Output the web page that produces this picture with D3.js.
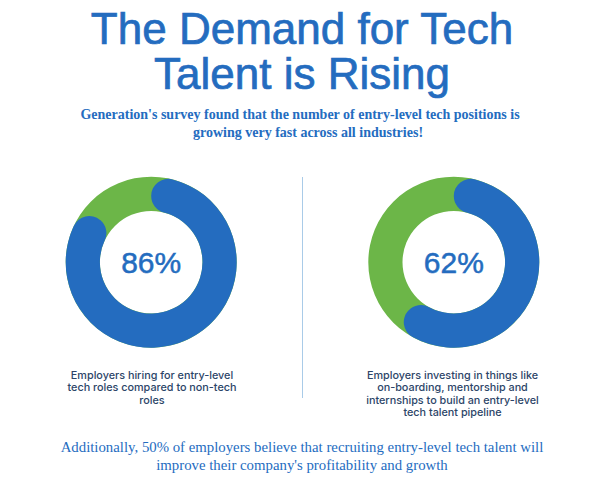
<!DOCTYPE html>
<html>
<head>
<meta charset="utf-8">
<script src="https://cdn.jsdelivr.net/npm/d3@7"></script>
<style>
  html, body { margin: 0; padding: 0; background: #fff; }
  svg { display: block; }
</style>
</head>
<body>
<svg width="604" height="485"></svg>
<script>
// Values
var percents = [86, 62];
var percentLabels = ["86%", "62%"];
var titleLines = ["The Demand for Tech", "Talent is Rising"];
var subtitleLines = [
  "Generation's survey found that the number of entry-level tech positions is",
  "growing very fast across all industries!"
];
var captions = [
  ["Employers hiring for entry-level", "tech roles compared to non-tech", "roles"],
  ["Employers investing in things like", "on-boarding, mentorship and", "internships to build an entry-level", "tech talent pipeline"]
];
var footerLines = [
  "Additionally, 50% of employers believe that recruiting entry-level tech talent will",
  "improve their company's profitability and growth"
];

var BLUE = "#246cbf";
var GREEN = "#6cb648";
var NAVY = "#2c4568";
var SANS = "'Liberation Sans', sans-serif";
var CAPTION = "Inter, 'Liberation Sans', sans-serif";
var SERIF = "'Liberation Serif', serif";

var svg = d3.select("svg");

function textBlock(lines, x, y, step, size, font, weight, fill) {
  return svg.append("g").selectAll("text")
    .data(lines)
    .enter().append("text")
    .attr("x", (d, i) => Array.isArray(x) ? x[i] : x)
    .attr("y", (d, i) => y + i * step)
    .attr("text-anchor", "middle")
    .attr("font-family", font)
    .attr("font-size", size)
    .attr("font-weight", weight)
    .attr("fill", fill)
    .text(d => d);
}

// Title is a bit heavier than the regular face, so give it a thin outline
textBlock(titleLines, 302, 43.5, 45, 44, SANS, 400, BLUE)
  .attr("stroke", BLUE)
  .attr("stroke-width", 0.7);
textBlock(subtitleLines, [300, 308], 119, 18, 14, SERIF, 700, BLUE);

// Donuts
var centers = [151.2, 453.8];
var angle = d3.scaleLinear().domain([0, 100]).range([0, 2 * Math.PI]);
var arc = d3.arc().innerRadius(51.3).outerRadius(85.5);
var roundArc = d3.arc().innerRadius(51.3).outerRadius(85.5).cornerRadius(17);

percents.forEach(function(p, i) {
  var g = svg.append("g").attr("transform", "translate(" + centers[i] + ",262.2)");
  g.append("path")
    .attr("d", arc({ startAngle: 0, endAngle: 2 * Math.PI }))
    .attr("fill", GREEN);
  // Blue arc starts at the top and runs clockwise
  g.append("path")
    .attr("d", roundArc({ startAngle: 0, endAngle: angle(p) }))
    .attr("fill", BLUE);
  g.append("text")
    .attr("y", 11)
    .attr("text-anchor", "middle")
    .attr("font-family", SANS)
    .attr("font-size", 30)
    .attr("fill", BLUE)
    .attr("stroke", BLUE)
    .attr("stroke-width", 0.5)
    .text(percentLabels[i]);
});

// Divider
svg.append("line")
  .attr("x1", 302.5).attr("x2", 302.5)
  .attr("y1", 177).attr("y2", 398)
  .attr("stroke", "#a9cbe8")
  .attr("stroke-width", 1);

textBlock(captions[0], 152, 379, 12.3, 10.8, CAPTION, 500, NAVY);
textBlock(captions[1], 452.5, 379, 12.3, 10.8, CAPTION, 500, NAVY);
textBlock(footerLines, 302, 452, 17.5, 14.8, SERIF, 400, BLUE);
</script>
</body>
</html>
